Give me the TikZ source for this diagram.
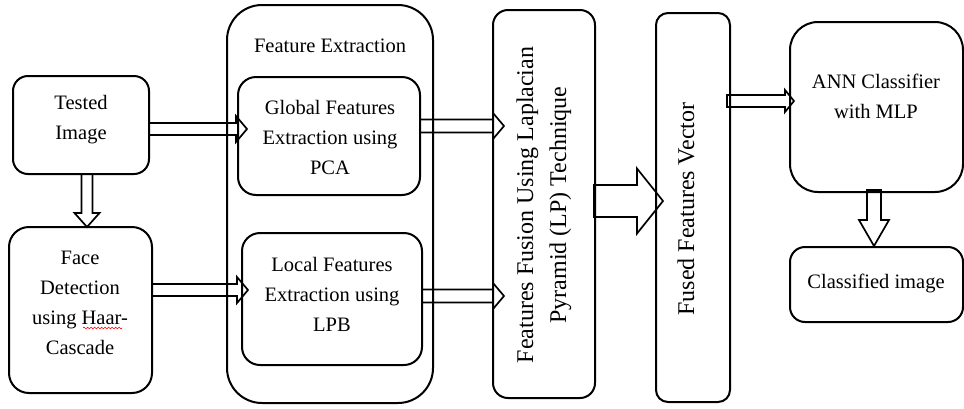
\documentclass[tikz,border=0pt]{standalone}
\usepackage{fontspec}
\setmainfont{Liberation Serif}
\usetikzlibrary{calc,backgrounds,decorations.pathmorphing}
\tikzset{
  box/.style={draw, line width=2pt, inner sep=0pt, outer sep=0pt},
  txt/.style={align=center, inner sep=0pt, font=\fontsize{20.5}{30}\selectfont},
  rtxt/.style={align=center, inner sep=0pt, rotate=90, font=\fontsize{24}{33}\selectfont},
  blockarrow/.style={draw, fill=white, line width=1.7pt, line join=miter}
}
% horizontal block arrow: start, tip, half shaft, half head, head length
\newcommand\harr[5]{\draw[blockarrow] let \p1=#1, \p2=#2 in
  (\x1,\y1+#3) -- (\x2-#5,\y1+#3) -- (\x2-#5,\y1+#4) -- (\x2,\y1) --
  (\x2-#5,\y1-#4) -- (\x2-#5,\y1-#3) -- (\x1,\y1-#3) -- cycle;}
% vertical (downward) block arrow
\newcommand\varr[5]{\draw[blockarrow] let \p1=#1, \p2=#2 in
  (\x1-#3,\y1) -- (\x1-#3,\y2+#5) -- (\x1-#4,\y2+#5) -- (\x1,\y2) --
  (\x1+#4,\y2+#5) -- (\x1+#3,\y2+#5) -- (\x1+#3,\y1) -- cycle;}
\begin{document}
\begin{tikzpicture}[x=1pt,y=-1pt]
\useasboundingbox (0,0) rectangle (964,408);

% boxes
\node[box, rounded corners=15pt, minimum width=136pt, minimum height=98pt] (tested) at (81,125) {};
\node[box, rounded corners=20pt, minimum width=143pt, minimum height=166pt] (face) at (80.5,310) {};
\node[box, rounded corners=35pt, minimum width=206pt, minimum height=398pt] (outer) at (330,204) {};
\node[box, rounded corners=18pt, minimum width=182pt, minimum height=118pt] (global) at (329,136) {};
\node[box, rounded corners=18pt, minimum width=180pt, minimum height=132pt] (local) at (332,299) {};
\node[box, rounded corners=15pt, minimum width=102pt, minimum height=388pt] (fusion) at (544,204) {};
\node[box, rounded corners=12pt, minimum width=74pt, minimum height=389pt] (fused) at (693,207.5) {};
\node[box, rounded corners=28pt, minimum width=173pt, minimum height=170pt] (ann) at (876.5,107) {};
\node[box, rounded corners=15pt, minimum width=173pt, minimum height=75pt] (classified) at (876.5,284.5) {};

% texts
\node[txt] (testedT) at (81,120) {Tested\\Image};
\node[txt] (faceT) at (80,303) {Face\\Detection\\using Haar-\\Cascade};
\node[txt] (outerT) at (330,46) {Feature Extraction};
\node[txt] (globalT) at (330,137) {Global Features\\Extraction using\\PCA};
\node[txt] (localT) at (332,294) {Local Features\\Extraction using\\LPB};
\node[rtxt] (fusionT) at (544,205) {Features Fusion Using Laplacian\\Pyramid (LP) Technique};
\node[rtxt] (fusedT) at (686,209) {Fused Features Vector};
\node[txt] (annT) at (876,96) {ANN Classifier\\with MLP};
\node[txt] (classifiedT) at (876,283) {Classified image};

% spell-check squiggle under "Haar"
\draw[red, line width=0.6pt, decorate, decoration={snake, amplitude=0.9pt, segment length=3.5pt}] (83,328) -- (122,328);

% block arrows, beneath the boxes
\begin{pgfonlayer}{background}
\varr{($(tested.south)+(6,0)$)}{(face.north)}{5.5pt}{12.5pt}{14pt}
\harr{($(tested.east)+(0,4)$)}{($(global.west)+(9,0)$)}{6pt}{13pt}{11pt}
\harr{($(face.east)+(0,-20)$)}{($(local.west)+(6,0)$)}{6pt}{13pt}{11pt}
\harr{($(global.east)+(0,-10)$)}{($(fusion.west)+(11,0)$)}{6.5pt}{13pt}{11pt}
\harr{($(local.east)+(0,-3)$)}{($(fusion.west)+(11,0)$)}{6.5pt}{13pt}{11pt}
\harr{($(fusion.east)+(-1,-3)$)}{($(fused.west)+(7,0)$)}{16pt}{32.5pt}{26pt}
\harr{($(fused.east|-ann.west)+(-3,-6)$)}{($(ann.west)+(4,0)$)}{6pt}{11pt}{9pt}
\varr{($(ann.south)+(-2.5,-2)$)}{($(classified.north)+(0,-1)$)}{7pt}{15pt}{26pt}
\end{pgfonlayer}
\end{tikzpicture}
\end{document}
